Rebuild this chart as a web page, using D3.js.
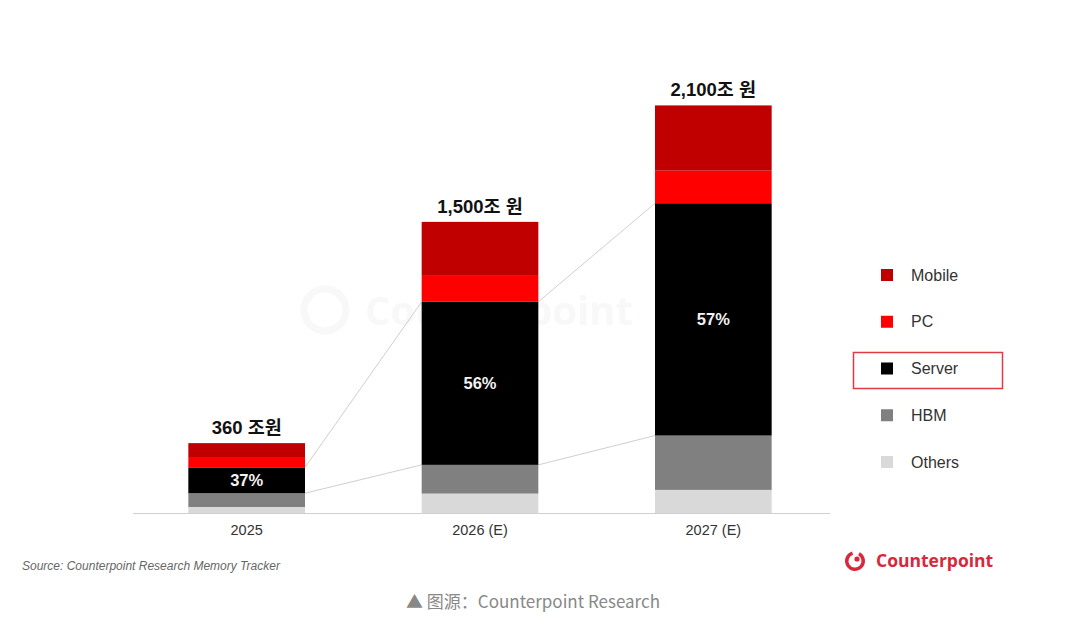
<!DOCTYPE html>
<meta charset="utf-8">
<script src="https://d3js.org/d3.v7.min.js"></script>
<style>
  body { margin: 0; background: #fff; }
  text { font-family: "Liberation Sans", Arial, "Noto Sans CJK KR", sans-serif; }
</style>
<div id="chart"></div>
<script>

// data (조 원)
var years = ["2025", "2026 (E)", "2027 (E)"];
var mobile = [76, 274, 336];
var pc = [49, 138, 168];
var server = [133, 840, 1197];
var hbm = [71, 148, 280];
var others = [31, 100, 119];
var totalLabels = ["360 조원", "1,500조 원", "2,100조 원"];
var serverShare = ["37%", "56%", "57%"];
var seriesNames = ["Mobile", "PC", "Server", "HBM", "Others"];
var seriesColors = ["#c00000", "#ff0000", "#000000", "#808080", "#d9d9d9"];

var width = 1080, height = 620;

var svg = d3.select("#chart").append("svg")
  .attr("width", width)
  .attr("height", height);

// table for d3.stack
var rows = years.map(function(y, i) {
  return { year: y, Mobile: mobile[i], PC: pc[i], Server: server[i], HBM: hbm[i], Others: others[i] };
});

var stackOrder = ["Others", "HBM", "Server", "PC", "Mobile"];
var stacked = d3.stack().keys(stackOrder)(rows);

var x = d3.scaleBand()
  .domain(years)
  .range([130, 830])
  .paddingInner(0.5)
  .paddingOuter(0.25);

var y = d3.scaleLinear()
  .domain([0, 2200])
  .range([513, 86]);

var color = d3.scaleOrdinal().domain(seriesNames).range(seriesColors);

// faint watermark
var wm = svg.append("g").attr("opacity", 0.025);
wm.append("circle").attr("cx", 325).attr("cy", 310).attr("r", 21)
  .attr("fill", "none").attr("stroke", "#000").attr("stroke-width", 7);
wm.append("text").attr("x", 365).attr("y", 325)
  .style("font-family", "'Open Sans', sans-serif")
  .style("font-weight", "bold").style("font-size", "40px")
  .text("Counterpoint");

// connector lines between bars (top of Server and top of HBM)
var serverTop = stacked.find(function(s) { return s.key === "Server"; });
var hbmTop = stacked.find(function(s) { return s.key === "HBM"; });
[serverTop, hbmTop].forEach(function(s) {
  for (var i = 0; i < years.length - 1; i++) {
    svg.append("line")
      .attr("x1", x(years[i]) + x.bandwidth())
      .attr("y1", y(s[i][1]))
      .attr("x2", x(years[i + 1]))
      .attr("y2", y(s[i + 1][1]))
      .attr("stroke", "#cfcfcf")
      .attr("stroke-width", 1);
  }
});

// bars
svg.append("g").selectAll("g")
  .data(stacked)
  .join("g")
    .attr("fill", function(d) { return color(d.key); })
  .selectAll("rect")
  .data(function(d) { return d; })
  .join("rect")
    .attr("x", function(d) { return x(d.data.year); })
    .attr("y", function(d) { return y(d[1]); })
    .attr("height", function(d) { return y(d[0]) - y(d[1]); })
    .attr("width", x.bandwidth());

// x axis
var xAxis = svg.append("g")
  .attr("transform", "translate(0," + y(0) + ")")
  .call(d3.axisBottom(x).tickSize(0).tickPadding(12));
xAxis.select(".domain").attr("stroke", "#d0d0d0").attr("d", "M133,0.5H830");
xAxis.selectAll("text")
  .style("font-family", "'Liberation Sans', Arial, sans-serif")
  .style("font-size", "14.5px")
  .attr("fill", "#333");

// totals above bars
svg.append("g").selectAll("text")
  .data(rows)
  .join("text")
    .attr("x", function(d) { return x(d.year) + x.bandwidth() / 2; })
    .attr("y", function(d) { return y(d.Mobile + d.PC + d.Server + d.HBM + d.Others) - 9; })
    .attr("text-anchor", "middle")
    .style("font-size", "18.5px")
    .style("font-weight", "bold")
    .attr("fill", "#111")
    .text(function(d, i) { return totalLabels[i]; });

// server share labels
svg.append("g").selectAll("text")
  .data(serverTop)
  .join("text")
    .attr("x", function(d) { return x(d.data.year) + x.bandwidth() / 2; })
    .attr("y", function(d) { return (y(d[0]) + y(d[1])) / 2; })
    .attr("dy", "0.36em")
    .attr("text-anchor", "middle")
    .style("font-size", "16.5px")
    .style("font-weight", "bold")
    .attr("fill", "#f2f2f2")
    .text(function(d, i) { return serverShare[i]; });

// legend
var legend = svg.append("g");
var legendY = d3.scalePoint().domain(seriesNames).range([275, 462]);
legend.append("rect")
  .attr("x", 853.5).attr("y", 352.5)
  .attr("width", 149).attr("height", 36)
  .attr("fill", "none")
  .attr("stroke", "#e23a44")
  .attr("stroke-width", 1.5);
seriesNames.forEach(function(name) {
  legend.append("rect")
    .attr("x", 881).attr("y", legendY(name) - 6)
    .attr("width", 12).attr("height", 12)
    .attr("fill", color(name));
  legend.append("text")
    .attr("x", 911).attr("y", legendY(name))
    .attr("dy", "0.35em")
    .style("font-size", "16px")
    .attr("fill", "#333")
    .text(name);
});

// source note
svg.append("text")
  .attr("x", 22).attr("y", 570)
  .style("font-size", "12px")
  .style("font-style", "italic")
  .attr("fill", "#666")
  .text("Source: Counterpoint Research Memory Tracker");

// Counterpoint logo
var logo = svg.append("g");
logo.append("path")
  .attr("d", d3.arc()({ innerRadius: 6.5, outerRadius: 10, startAngle: 0.5, endAngle: 2 * Math.PI - 0.3 }))
  .attr("transform", "translate(855,561)")
  .attr("fill", "#d8283c");
logo.append("circle").attr("cx", 857).attr("cy", 559).attr("r", 2.6).attr("fill", "#d8283c");
logo.append("text")
  .attr("x", 876).attr("y", 567)
  .style("font-family", "'Open Sans', sans-serif")
  .style("font-size", "17.5px")
  .style("font-weight", "bold")
  .attr("fill", "#d8283c")
  .text("Counterpoint");

// image caption
svg.append("text")
  .attr("x", 533).attr("y", 608)
  .attr("text-anchor", "middle")
  .style("font-family", "'Noto Sans CJK SC', sans-serif")
  .style("font-size", "17px")
  .attr("fill", "#888")
  .text("▲ 图源：Counterpoint Research");

</script>
